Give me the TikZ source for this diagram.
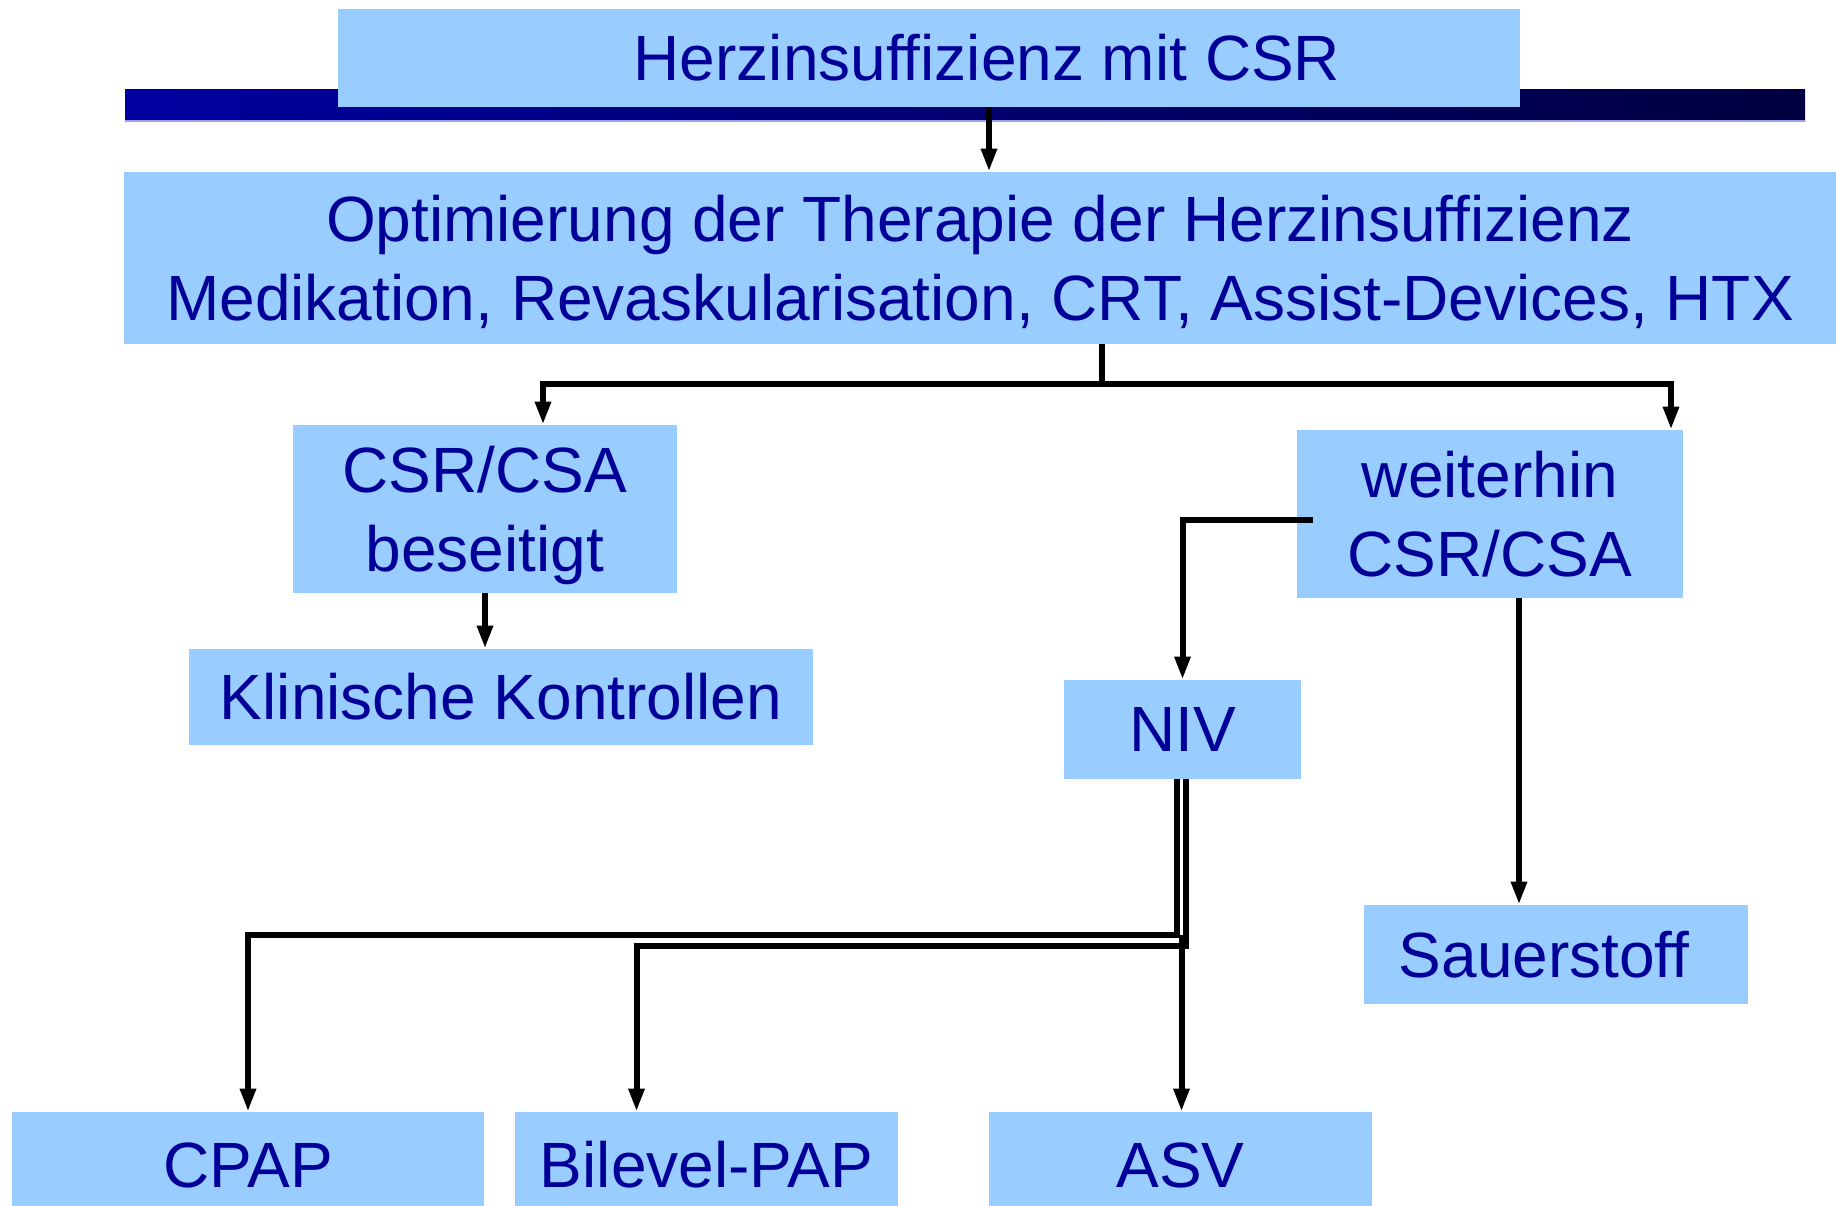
\documentclass[tikz,border=0pt]{standalone}
\usepackage{fontspec}
\setmainfont{Liberation Sans}
\usepackage{tikz}
\usetikzlibrary{arrows.meta,calc,positioning}
\definecolor{boxblue}{RGB}{153,204,255}
\definecolor{textblue}{RGB}{0,0,153}
\definecolor{barleft}{RGB}{0,0,160}
\definecolor{barright}{RGB}{0,0,64}
\definecolor{barline}{RGB}{160,160,230}

\begin{document}
\begin{tikzpicture}[x=0.5pt,y=-0.5pt,
    stepbox/.style={fill=boxblue, text=textblue, inner sep=0pt, align=center,
        font=\fontsize{32}{39.5}\selectfont},
    flow/.style={line width=3pt, -{Triangle[length=11.5pt,width=7.5pt]}}]
\useasboundingbox (0,0) rectangle (1836,1205);

\shade[left color=barleft, right color=barright] (125,89) rectangle (1805,121);
\draw[barline, line width=0.6pt] (125,121) -- (1805,121);

\node[stepbox, minimum width=591pt, minimum height=49pt] (herz) at (929,58) {\hspace*{58pt}Herzinsuffizienz mit CSR};
\node[stepbox, minimum width=856pt, minimum height=86pt, text depth=-7pt] (opt) at (980,258)
    {Optimierung der Therapie der Herzinsuffizienz\\Medikation, Revaskularisation, CRT, Assist-Devices, HTX};
\node[stepbox, minimum width=192pt, minimum height=84pt, text depth=-2.5pt] (besei) at (485,509) {CSR/CSA\\beseitigt};
\node[stepbox, minimum width=193pt, minimum height=84pt] (weit) at (1490,514) {weiterhin\\CSR/CSA};
\node[stepbox, minimum width=312pt, minimum height=48pt] (klin) at (501,697) {Klinische Kontrollen};
\node[stepbox, minimum width=118.5pt, minimum height=49.5pt] (niv) at (1182.5,729.5) {NIV};
\node[stepbox, minimum width=192pt, minimum height=49.5pt] (sauer) at (1556,954.5) {Sauerstoff\hspace*{12pt}};
\node[stepbox, minimum width=236pt, minimum height=53pt] (cpap) at (248,1165) {CPAP};
\node[stepbox, minimum width=191.5pt, minimum height=53pt] (bil) at (706.5,1165) {Bilevel-PAP};
\node[stepbox, minimum width=191.5pt, minimum height=53pt] (asv) at (1180.5,1165) {ASV};

\coordinate (split) at (1102,384);
\coordinate (lvlA) at (0,935);
\coordinate (lvlB) at (0,946);
\coordinate (bilin) at ($(bil.north)+(-70,0)$);
\coordinate (nivout) at ([xshift=-0.5pt]niv.south);

\draw[flow] ([xshift=30pt]herz.south) -- ([xshift=30pt]herz.south |- opt.north);
\draw[flow] (opt.south -| split) -- (split) -| ([xshift=29pt]besei.north);
\draw[flow] (split) -| ([xshift=90.5pt]weit.north);
\draw[flow] (besei.south) -- (besei.south |- klin.north);
\draw[flow] ([xshift=8pt,yshift=-3pt]weit.west) -| (niv.north);
\draw[flow] ([xshift=14.5pt]weit.south) -- ([xshift=14.5pt]weit.south |- sauer.north);
\draw[flow] ([xshift=-2.75pt]niv.south) |- (lvlA -| cpap.north) -- (cpap.north);
\draw[flow] ([xshift=1.75pt]niv.south) |- (lvlB -| bilin) -- (bilin);
\draw[flow] (nivout |- lvlA) -- (nivout |- asv.north);
\end{tikzpicture}
\end{document}
